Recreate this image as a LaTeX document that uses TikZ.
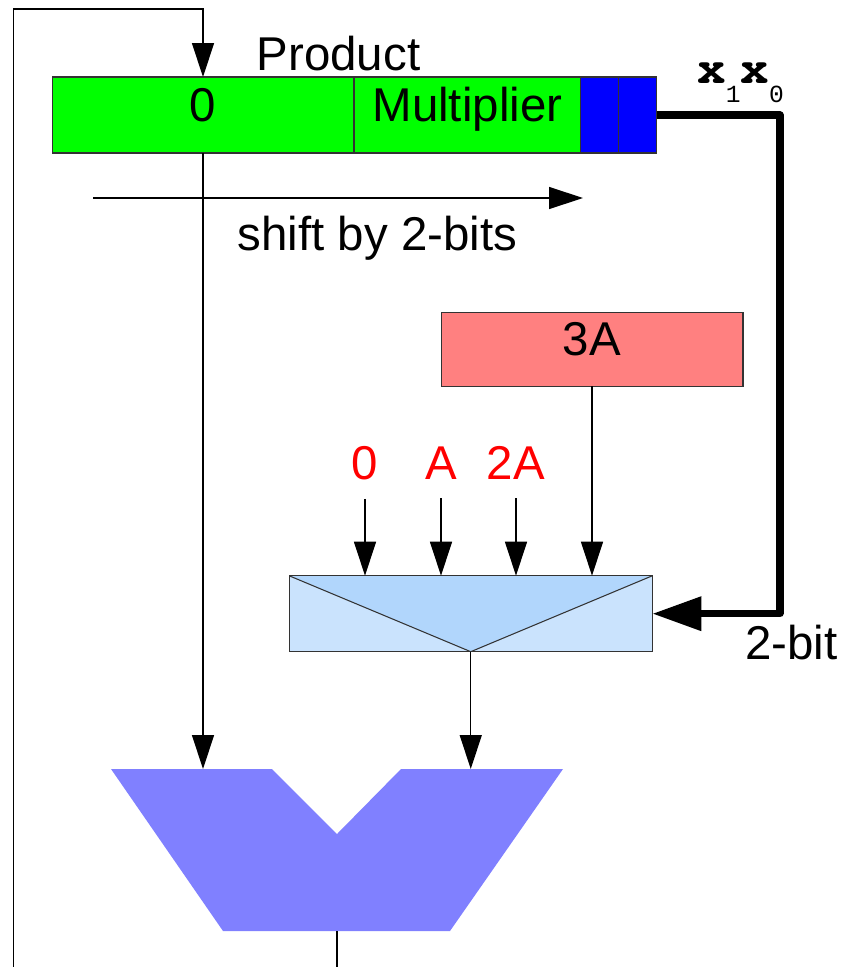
\documentclass[tikz,border=0pt]{standalone}
\usepackage{fontspec}
\setmainfont{Liberation Sans}
\setmonofont{Liberation Mono}
\newfontfamily\bitfont{TeX Gyre Cursor}
\usepackage{tikz}
\usetikzlibrary{positioning,arrows.meta}
\usepackage{xcolor}
\definecolor{reggreen}{HTML}{00FF00}
\definecolor{regblue}{HTML}{0000FF}
\definecolor{boxred}{HTML}{FF8080}
\definecolor{muxlight}{HTML}{CAE3FD}
\definecolor{muxdark}{HTML}{B1D6FC}
\definecolor{alublue}{HTML}{8080FF}
\definecolor{edgegray}{HTML}{333333}
\newcommand{\lowbit}[1]{\raisebox{-0.4cm}{\fontsize{14}{14}\selectfont\ttfamily\mdseries #1}}

\begin{document}
\begin{tikzpicture}[x=0.02cm,y=-0.02cm,font=\fontsize{27}{32}\selectfont,
    box/.style={draw=edgegray,line width=0.6pt,inner sep=0pt,outer sep=0pt,minimum height=1.52cm,text height=0.716em,text depth=0pt},
    bitbox/.style={box,fill=regblue,minimum width=0.76cm},
    lbl/.style={inner sep=0pt,anchor=base},
    wire/.style={line width=0.75pt},
    arr/.style={wire,-{Triangle[length=0.68cm,width=0.44cm]}},
    bus/.style={line width=4pt,line join=round,-{Triangle[length=0.98cm,width=0.66cm]}}]
  \useasboundingbox (0,0) rectangle (840,967);
  \node[box,fill=reggreen,minimum width=6.04cm] (zero) at (203,115) {0};
  \node[box,fill=reggreen,minimum width=4.54cm,right=0pt of zero] (mplier) {Multiplier};
  \node[bitbox,right=0pt of mplier] (xone) {};
  \node[bitbox,right=0pt of xone] (xzero) {};
  \node[lbl] (prod) at (338.5,70) {Product};
  \node[lbl,anchor=base west] (xbits) at (697,83) {\bitfont\bfseries x\lowbit{1}x\lowbit{0}};
  \coordinate (shiftL) at (93,198);
  \coordinate (shiftR) at (583,198);
  \draw[arr] (shiftL) -- (shiftR);
  \node[lbl] (shift) at (377.5,250) {shift by 2-bits};
  \node[box,fill=boxred,minimum width=6.04cm,minimum height=1.48cm] (three) at (592,349.3) {3A};
  \node[box,fill=muxlight,minimum width=7.27cm,path picture={
      \fill[muxdark] (path picture bounding box.north west) -- (path picture bounding box.north east) -- (path picture bounding box.south) -- cycle;
      \draw[edgegray,line width=0.6pt] (path picture bounding box.north west) -- (path picture bounding box.south) -- (path picture bounding box.north east);}]
    (mux) at (470.75,613.7) {};
  \foreach \v/\px [count=\i] in {0/365,A/441,2A/516}{%
    \node[lbl,text=red,inner ysep=0.38cm] (in\i) at (\px,479) {\v};
    \draw[arr] (in\i.south) -- (in\i.south |- mux.north);}
  \draw[arr] (three.south) -- (three.south |- mux.north);
  \coordinate (buscorner) at (780,115);
  \draw[bus] (xzero.east) -- (buscorner) |- (mux.east);
  \node[lbl,anchor=base west] (twobit) at (745,659) {2-bit};
  \fill[alublue] (111,769) -- (272,769) -- (337,834) -- (401,769) -- (563,769) -- (450,931) -- (223,931) -- cycle;
  \coordinate (alutop) at (337,769);
  \coordinate (aluout) at (337,931);
  \coordinate (outend) at (337,967);
  \coordinate (loopend) at (13.5,967);
  \coordinate (looptop) at (13.5,9);
  \draw[arr] (zero.south) -- (zero.south |- alutop);
  \draw[arr] (mux.south) -- (mux.south |- alutop);
  \draw[wire] (aluout) -- (outend);
  \draw[arr] (loopend) -- (looptop) -| (zero.north);
\end{tikzpicture}
\end{document}
